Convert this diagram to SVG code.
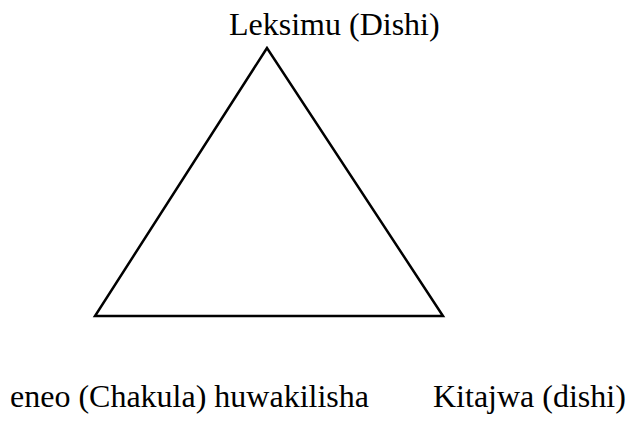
<svg xmlns="http://www.w3.org/2000/svg" width="630" height="421" viewBox="0 0 630 421">
<style>
.t{font-family:"Liberation Serif","Times New Roman",serif;font-size:32px;fill:#000}
.tri{fill:none;stroke:#000;stroke-width:2.5;stroke-linejoin:miter}
</style>
<rect width="630" height="421" fill="#fff"/>
<g id="triangle"><polygon class="tri" points="267,48 95,316 443,316"/></g>
<g id="label-top"><text class="t" x="229" y="35">Leksimu (Dishi)</text></g>
<g id="label-left"><text class="t" x="10" y="407">eneo (Chakula) huwakilisha</text></g>
<g id="label-right"><text class="t" x="433" y="407">Kitajwa (dishi)</text></g>
</svg>
